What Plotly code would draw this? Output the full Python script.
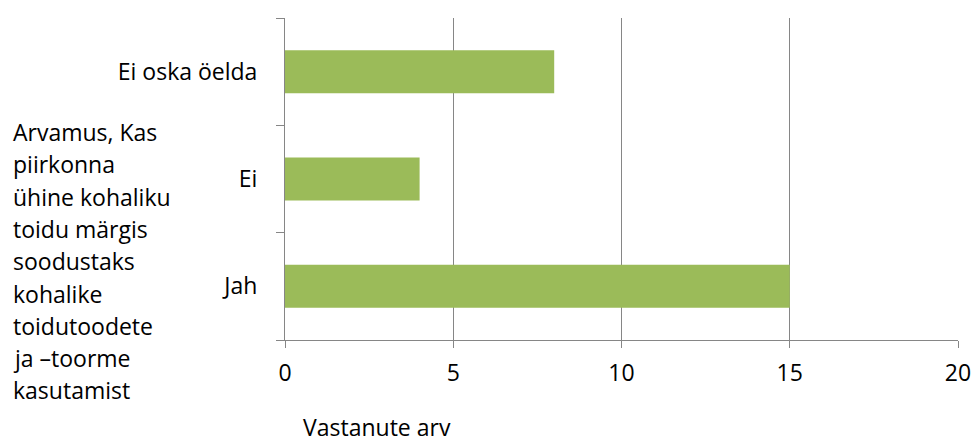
import plotly.graph_objects as go

categories = ["Jah", "Ei", "Ei oska öelda"]
values = [15, 4, 8]
x_ticks = [0, 5, 10, 15, 20]
y_title_lines = ["Arvamus, Kas", "piirkonna", "ühine kohaliku", "toidu märgis",
                 "soodustaks", "kohalike", "toidutoodete", "ja –toorme", "kasutamist"]
x_title = "Vastanute arv"

W, H = 972, 444
L, R, T, B = 285, 14, 18, 104
FONT = "Open Sans"
FS = 23
GRAY = "#868686"

fig = go.Figure(go.Bar(
    y=categories, x=values, orientation="h",
    marker=dict(color="#9BBB59", line=dict(width=0)),
    width=0.4,
))

def px_x(p):
    return (p - L) / (W - L - R)

def px_y(p):
    return 1 - (p - T) / (H - T - B)

ann = []
y0 = 132
for i, line in enumerate(y_title_lines):
    ann.append(dict(text=line, xref="paper", yref="paper", x=px_x(11), y=px_y(y0 + i * 32.3),
                    xanchor="left", yanchor="middle", showarrow=False,
                    font=dict(family=FONT, size=FS, color="#000")))
ann.append(dict(text=x_title, xref="paper", yref="paper", x=px_x(302), y=px_y(444),
                xanchor="left", yanchor="bottom", showarrow=False, borderpad=0,
                font=dict(family=FONT, size=FS, color="#000")))

fig.update_layout(
    width=W, height=H, margin=dict(l=L, r=R, t=T, b=B, autoexpand=False),
    paper_bgcolor="white", plot_bgcolor="white",
    showlegend=False, annotations=ann,
    font=dict(family=FONT, size=FS, color="#000"),
    xaxis=dict(range=[0, 20], tickvals=x_ticks, showgrid=True, gridcolor=GRAY, gridwidth=1,
               zeroline=False, showline=True, linecolor=GRAY, linewidth=1, automargin=False,
               ticks="outside", ticklen=7, tickcolor=GRAY, ticklabelstandoff=5),
    yaxis=dict(type="category", categoryorder="array", categoryarray=categories,
               showgrid=False, zeroline=False, showline=True, linecolor=GRAY, linewidth=1,
               automargin=False,
               ticks="outside", ticklen=8, tickcolor=GRAY, tickson="boundaries",
               ticklabelstandoff=22, range=[-0.5, 2.5]),
    bargap=0.6,
)

fig.write_html("out.html")
